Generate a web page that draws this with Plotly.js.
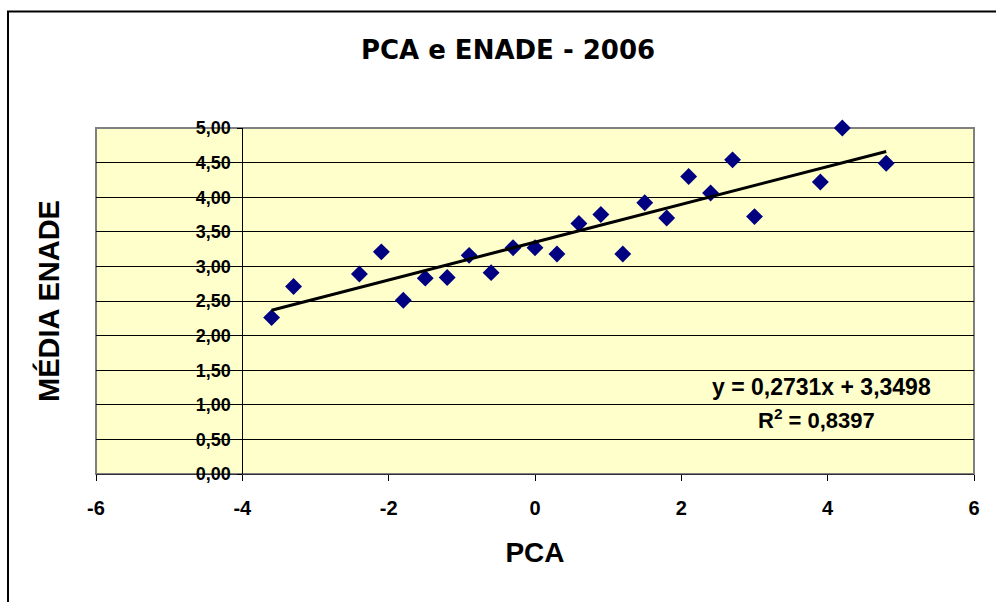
<!DOCTYPE html>
<html>
<head>
<meta charset="utf-8">
<script src="https://cdn.plot.ly/plotly-3.0.1.min.js"></script>
<style>
html,body{margin:0;padding:0;background:#fff;}
#chart{width:996px;height:602px;}
</style>
</head>
<body>
<div id="chart"></div>
<script>
// Data
var pcaValues = [-3.6, -3.3, -2.4, -2.1, -1.8, -1.5, -1.2, -0.9, -0.6, -0.3, 0.0, 0.3, 0.6, 0.9, 1.2, 1.5, 1.8, 2.1, 2.4, 2.7, 3.0, 3.9, 4.2, 4.8];
var enadeValues = [2.26, 2.71, 2.89, 3.21, 2.51, 2.83, 2.84, 3.16, 2.91, 3.27, 3.27, 3.18, 3.62, 3.75, 3.18, 3.92, 3.70, 4.30, 4.06, 4.54, 3.72, 4.22, 5.00, 4.49];
var trendSlope = 0.2731;
var trendIntercept = 3.3498;
var rSquared = 0.8397;
var trendX = [-3.6, 4.8];
var trendY = trendX.map(function (x) { return trendSlope * x + trendIntercept; });
var xTickValues = [-6, -4, -2, 0, 2, 4, 6];
var xTickLabels = ['-6', '-4', '-2', '0', '2', '4', '6'];
var chartTitle = 'PCA e ENADE - 2006';
var xTitle = 'PCA';
var yTitle = 'MÉDIA ENADE';

var F = 'Liberation Sans, Arial, sans-serif';
function fmt(v) { return v.toFixed(4).replace('.', ','); }

var traces = [
  {
    x: pcaValues, y: enadeValues, type: 'scatter', mode: 'markers',
    marker: { symbol: 'diamond', size: 13, color: '#000080' },
    cliponaxis: false, hoverinfo: 'x+y', showlegend: false
  },
  {
    x: trendX, y: trendY, type: 'scatter', mode: 'lines',
    line: { color: '#000000', width: 3 }, hoverinfo: 'skip', showlegend: false
  }
];

var layout = {
  width: 996, height: 602,
  margin: { l: 96, r: 22, t: 128, b: 128 },
  paper_bgcolor: '#ffffff',
  plot_bgcolor: '#FFFFCC',
  separators: ',.',
  font: { family: F, color: '#000000' },
  title: {
    text: chartTitle,
    font: { family: 'DejaVu Sans, sans-serif', size: 26, weight: 'bold', color: '#000' },
    xref: 'container', x: 508 / 996, xanchor: 'center',
    yref: 'container', y: 1 - 50 / 602, yanchor: 'middle'
  },
  xaxis: {
    range: [-6, 6], tickvals: xTickValues, ticktext: xTickLabels, tickmode: 'array',
    ticks: 'outside', ticklen: 6, tickcolor: '#000', tickwidth: 1,
    ticklabelstandoff: 10,
    showline: true, linecolor: '#303030', linewidth: 1,
    showgrid: false, zeroline: false,
    tickfont: { family: F, size: 20, weight: 'bold', color: '#000' },
    title: { text: xTitle, font: { family: F, size: 28, weight: 'bold', color: '#000' }, standoff: 24 },
    layer: 'below traces', fixedrange: true
  },
  yaxis: {
    range: [0, 5], dtick: 0.5, tick0: 0, tickformat: '.2f',
    anchor: 'free', position: 2 / 12, side: 'left',
    ticks: 'outside', ticklen: 5, tickcolor: '#000', tickwidth: 1,
    ticklabelstandoff: 3,
    showline: true, linecolor: '#000', linewidth: 1,
    showgrid: true, gridcolor: '#000', gridwidth: 1, zeroline: false,
    tickfont: { family: F, size: 18, weight: 'bold', color: '#000' },
    title: { text: yTitle, font: { family: F, size: 29, weight: 'bold', color: '#000' }, standoff: 126 },
    layer: 'below traces', fixedrange: true
  },
  shapes: [
    { type: 'rect', xref: 'paper', yref: 'paper', x0: 0, x1: 1, y0: 0, y1: 1,
      line: { color: '#808080', width: 2 }, fillcolor: 'rgba(0,0,0,0)', layer: 'below' },
    { type: 'rect', xref: 'paper', yref: 'paper', x0: -88 / 878, x1: 1.1, y0: -0.6, y1: (474 - 11.5) / 346,
      line: { color: '#000000', width: 2 }, fillcolor: 'rgba(0,0,0,0)', layer: 'below' }
  ],
  annotations: [
    { xref: 'x', yref: 'y', x: 3.92, y: 1.257, xanchor: 'center', yanchor: 'middle', showarrow: false,
      text: 'y = ' + fmt(trendSlope) + 'x + ' + fmt(trendIntercept),
      font: { family: F, size: 23, weight: 'bold', color: '#000' } },
    { xref: 'x', yref: 'y', x: 3.85, y: 0.79, xanchor: 'center', yanchor: 'middle', showarrow: false,
      text: 'R<sup>2</sup> = ' + fmt(rSquared),
      font: { family: F, size: 22, weight: 'bold', color: '#000' } }
  ]
};

Plotly.newPlot('chart', traces, layout, { displayModeBar: false, staticPlot: true });
</script>
</body>
</html>
